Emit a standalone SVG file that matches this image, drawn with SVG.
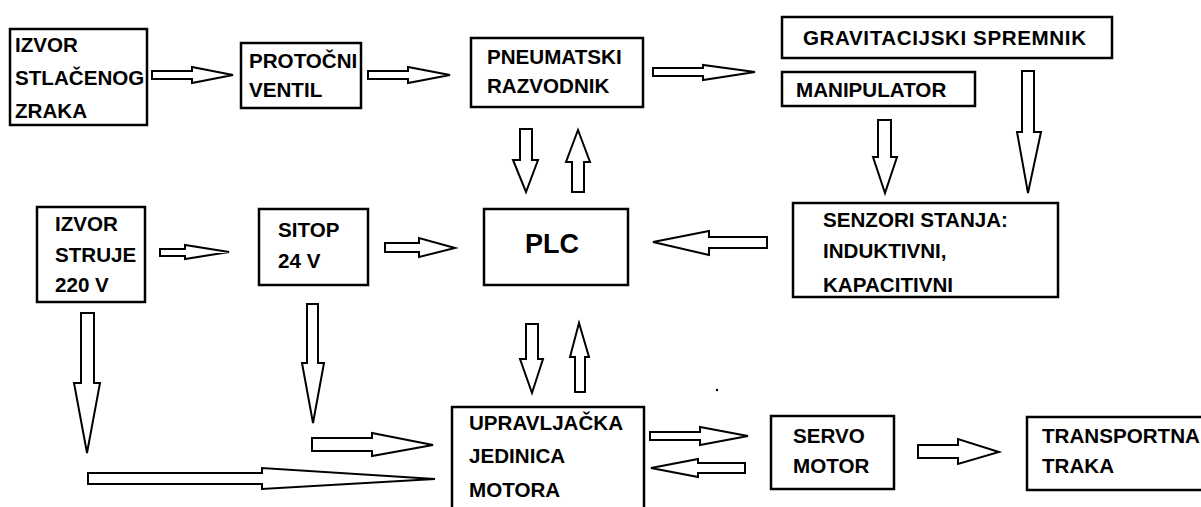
<svg xmlns="http://www.w3.org/2000/svg" width="1201" height="507" viewBox="0 0 1201 507">
<style>
.box{fill:#fff;stroke:#000;stroke-width:2.5}
.t{font-family:"Liberation Sans",Arial,sans-serif;font-weight:bold;font-size:20.6px;fill:#000}
.big{font-size:27px}
.arr{fill:#fff;stroke:#000;stroke-width:2;stroke-linejoin:miter}
</style>
<rect width="1201" height="507" fill="#fff"/>
<g id="izvor-zraka"><rect class="box" x="10" y="29" width="137" height="96"/>
<text class="t" x="15" y="52">IZVOR</text><text class="t" x="15" y="85">STLAČENOG</text><text class="t" x="15" y="118">ZRAKA</text></g>
<g id="protocni-ventil"><rect class="box" x="241" y="43" width="120" height="65"/>
<text class="t" x="249" y="68">PROTOČNI</text><text class="t" x="249" y="97">VENTIL</text></g>
<g id="pneumatski-razvodnik"><rect class="box" x="471" y="38" width="172" height="69"/>
<text class="t" x="487" y="64">PNEUMATSKI</text><text class="t" x="487" y="93">RAZVODNIK</text></g>
<g id="gravitacijski-spremnik"><rect class="box" x="782" y="17" width="330" height="41"/>
<text class="t" x="803" y="45" textLength="283" lengthAdjust="spacing">GRAVITACIJSKI SPREMNIK</text></g>
<g id="manipulator"><rect class="box" x="782" y="72" width="193" height="34"/>
<text class="t" x="796" y="97">MANIPULATOR</text></g>
<g id="senzori"><rect class="box" x="793" y="203" width="265" height="94"/>
<text class="t" x="823" y="227">SENZORI STANJA:</text><text class="t" x="823" y="258">INDUKTIVNI,</text><text class="t" x="823" y="292">KAPACITIVNI</text></g>
<g id="izvor-struje"><rect class="box" x="37" y="207" width="108" height="95"/>
<text class="t" x="55" y="231">IZVOR</text><text class="t" x="55" y="262">STRUJE</text><text class="t" x="55" y="292">220 V</text></g>
<g id="sitop"><rect class="box" x="259" y="209" width="109" height="76"/>
<text class="t" x="278" y="237">SITOP</text><text class="t" x="278" y="268">24 V</text></g>
<g id="plc"><rect class="box" x="484" y="209" width="144" height="76"/>
<text class="t big" x="525" y="253">PLC</text></g>
<g id="upravljacka-jedinica"><rect class="box" x="452" y="407" width="192" height="110"/>
<text class="t" x="469" y="430">UPRAVLJAČKA</text><text class="t" x="469" y="463">JEDINICA</text><text class="t" x="469" y="497">MOTORA</text></g>
<g id="servo-motor"><rect class="box" x="771" y="416" width="123" height="73"/>
<text class="t" x="793" y="443">SERVO</text><text class="t" x="793" y="473">MOTOR</text></g>
<g id="transportna-traka"><rect class="box" x="1027" y="417" width="190" height="73"/>
<text class="t" x="1042" y="443">TRANSPORTNA</text><text class="t" x="1042" y="473">TRAKA</text></g>
<g id="connectors">
<polygon class="arr" points="152,71 192,71 192,67 233,75 192,83 192,79 152,79"/>
<polygon class="arr" points="368,71 408,71 408,67 450,75 408,83 408,79 368,79"/>
<polygon class="arr" points="653,68 703,68 703,65 755,72 703,80 703,76 653,76"/>
<polygon class="arr" points="520,129 532,129 532,160 538,160 526,192 513,160 520,160"/>
<polygon class="arr" points="572,192 584,192 584,162 590,162 578,130 566,162 572,162"/>
<polygon class="arr" points="878,120 891,120 891,157 897,157 885,193 873,157 878,157"/>
<polygon class="arr" points="1022,71 1034,71 1034,132 1041,132 1028,193 1017,132 1022,132"/>
<polygon class="arr" points="767,237 709,237 709,231 653,242 709,255 709,248 767,248"/>
<polygon class="arr" points="160,249 185,249 185,245 229,252 185,259 185,256 160,256"/>
<polygon class="arr" points="385,243 419,243 419,238 455,248 419,257 419,252 385,252"/>
<polygon class="arr" points="81,313 94,313 94,383 100,383 87,453 74,383 81,383"/>
<polygon class="arr" points="307,304 318,304 318,363 324,363 313,423 302,363 307,363"/>
<polygon class="arr" points="312,438 372,438 372,433 433,445 372,456 372,451 312,451"/>
<polygon class="arr" points="88,473 262,473 262,468 435,479 262,489 262,484 88,484"/>
<polygon class="arr" points="526,324 538,324 538,359 543,359 532,393 520,359 526,359"/>
<polygon class="arr" points="575,392 585,392 585,357 589,357 579,323 570,357 575,357"/>
<polygon class="arr" points="650,432 700,432 700,427 748,436 700,445 700,440 650,440"/>
<polygon class="arr" points="745,463 698,463 698,459 651,468 698,477 698,473 745,473"/>
<polygon class="arr" points="918,445 958,445 958,439 999,452 958,464 958,458 918,458"/>
</g>
<circle cx="717" cy="390" r="1.2" fill="#000"/>
</svg>
